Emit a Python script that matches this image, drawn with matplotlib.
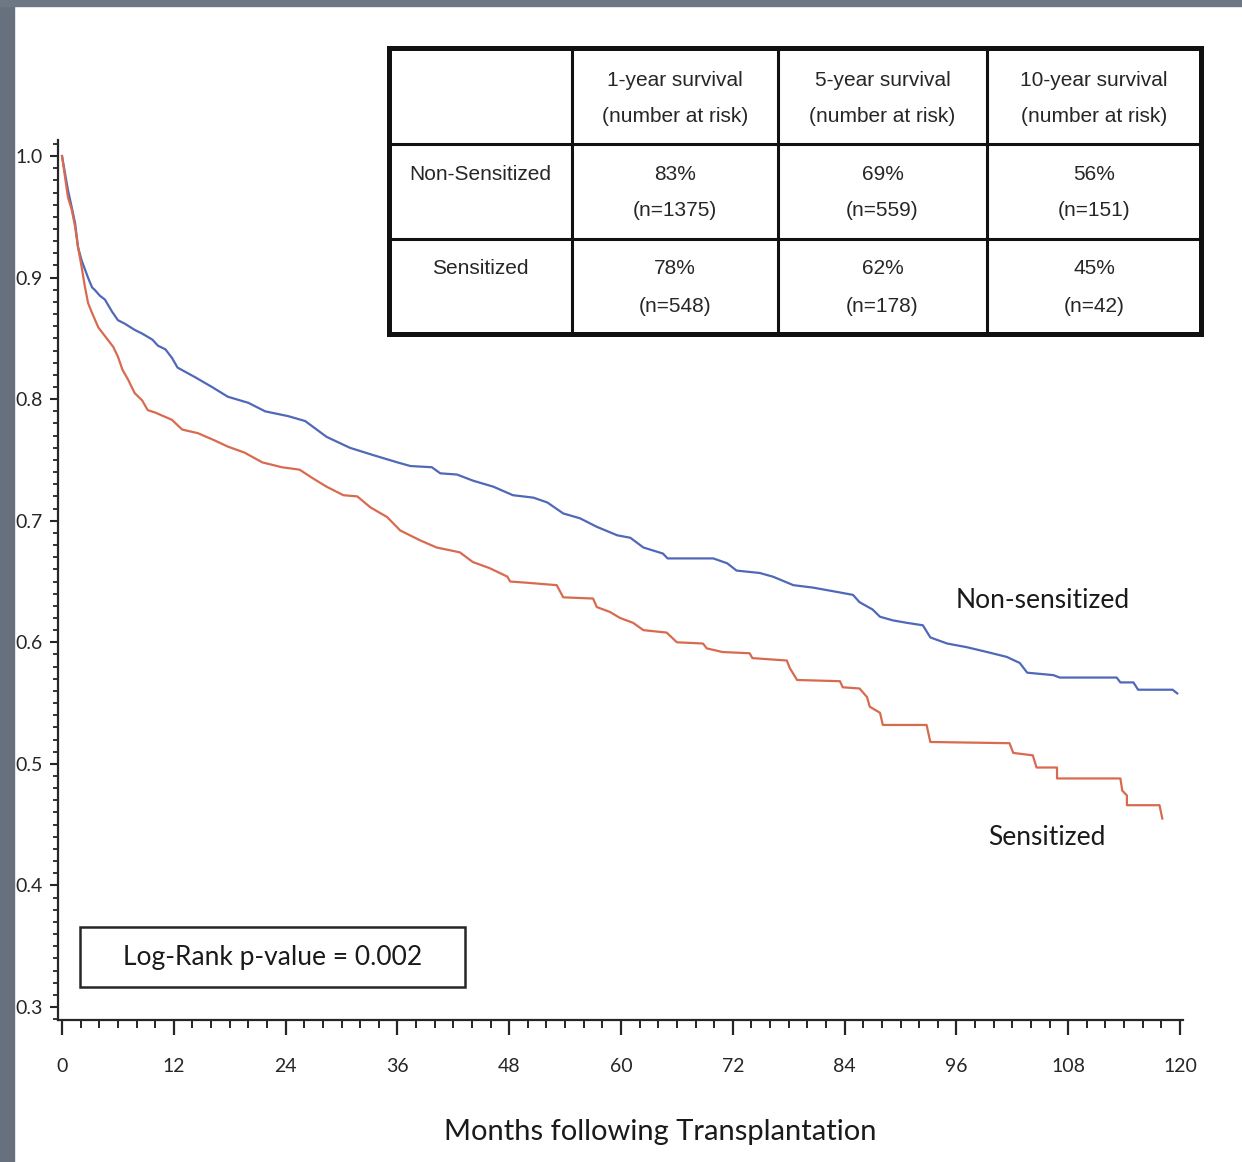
import numpy as np
import matplotlib
matplotlib.use("Agg")
import matplotlib.pyplot as plt
from matplotlib.patches import Rectangle
from matplotlib.ticker import MultipleLocator

# ---------------------------------------------------------------
# Data
# ---------------------------------------------------------------
non_sens_months = [0, 0.32, 0.64, 1.04, 1.4, 1.72, 2.11, 2.5, 2.79, 3.22, 3.5, 4.08, 4.6, 5.37,
                   6.0, 6.76, 7.8, 8.59, 9.7, 10.3, 11.1, 11.8, 12.4, 14.3, 16.1, 17.8,
                   20.0, 21.8, 24.3, 26.1, 28.4, 30.9, 33.4, 36.0, 37.4, 39.7, 40.6, 42.4,
                   44.1, 46.3, 48.4, 50.6, 52.1, 53.8, 55.6, 57.4, 59.6, 61.0, 62.4, 64.5,
                   65.0, 69.9, 71.4, 72.4, 74.9, 76.3, 78.5, 80.6, 83.5, 84.9, 85.6, 87.0,
                   87.8, 89.2, 90.7, 92.4, 93.2, 95.0, 97.1, 99.3, 101.4, 102.8, 103.6,
                   106.4, 107.1, 113.2, 113.6, 115.0, 115.5, 119.2, 119.7]
non_sens_surv = [1.000, 0.986, 0.972, 0.958, 0.945, 0.925, 0.914, 0.906, 0.900, 0.892, 0.890,
                 0.885, 0.882, 0.872, 0.865, 0.862, 0.857, 0.854, 0.849, 0.844, 0.841, 0.834,
                 0.826, 0.818, 0.810, 0.802, 0.797, 0.790, 0.786, 0.782, 0.769, 0.760, 0.754,
                 0.748, 0.745, 0.744, 0.739, 0.738, 0.733, 0.728, 0.721, 0.719, 0.715, 0.706,
                 0.702, 0.695, 0.688, 0.686, 0.678, 0.673, 0.669, 0.669, 0.665, 0.659, 0.657,
                 0.654, 0.647, 0.645, 0.641, 0.639, 0.633, 0.627, 0.621, 0.618, 0.616, 0.614,
                 0.604, 0.599, 0.596, 0.592, 0.588, 0.583, 0.575, 0.573, 0.571, 0.571, 0.567,
                 0.567, 0.561, 0.561, 0.558]

sens_months = [0, 0.32, 0.64, 1.04, 1.4, 1.72, 2.1, 2.47, 2.8, 3.22, 3.9, 4.4, 4.9, 5.5, 6.0,
               6.5, 7.1, 7.8, 8.6, 9.2, 10.0, 11.8, 12.9, 14.6, 16.4,
               17.8, 19.6, 21.5, 23.6, 25.5, 26.9, 28.4, 30.2, 31.7, 33.1, 34.9, 36.3, 38.4,
               40.2, 42.7, 44.1, 45.9, 47.8, 48.1, 49.9, 53.1, 53.8, 57.0, 57.4, 58.8, 59.9,
               61.3, 62.4, 64.9, 66.0, 68.8, 69.2, 70.9, 73.8, 74.1, 77.8, 78.1, 78.9, 83.5,
               83.8, 85.6, 86.4, 86.7, 87.8, 88.1, 92.8, 93.2, 101.7, 102.1, 104.2, 104.6,
               106.8, 106.8, 113.6, 113.8, 114.3, 114.3, 117.8, 118.1]
sens_surv = [1.000, 0.983, 0.966, 0.956, 0.942, 0.925, 0.909, 0.892, 0.879, 0.871, 0.859,
             0.854, 0.849, 0.843, 0.835, 0.824, 0.816, 0.805, 0.799, 0.791, 0.789,
             0.783, 0.775, 0.772, 0.766, 0.761, 0.756, 0.748, 0.744, 0.742, 0.735, 0.728,
             0.721, 0.720, 0.711, 0.703, 0.692, 0.684, 0.678, 0.674, 0.666, 0.661, 0.654,
             0.650, 0.649, 0.647, 0.637, 0.636, 0.629, 0.625, 0.620, 0.616, 0.610, 0.608,
             0.600, 0.599, 0.595, 0.592, 0.591, 0.587, 0.585, 0.579, 0.569, 0.568, 0.563,
             0.562, 0.555, 0.547, 0.542, 0.532, 0.532, 0.518, 0.517, 0.509, 0.507, 0.497,
             0.497, 0.488, 0.488, 0.478, 0.474, 0.466, 0.466, 0.455]

col_headers = ["1-year survival\n(number at risk)", "5-year survival\n(number at risk)",
               "10-year survival\n(number at risk)"]
row_labels = ["Non-Sensitized", "Sensitized"]
survival_pct = [["83%", "69%", "56%"], ["78%", "62%", "45%"]]
at_risk = [["1375", "559", "151"], ["548", "178", "42"]]

p_value = "0.002"

W, H = 1242, 1162
blue = "#4f68b8"
red = "#d86a50"
ink = "#262626"
main_font = ["Lato", "DejaVu Sans"]
table_font = ["Liberation Sans Narrow", "Liberation Sans", "DejaVu Sans"]

fig = plt.figure(figsize=(W / 100, H / 100), dpi=100)
fig.patch.set_facecolor("white")

# scanned-page frame (grey strip left and top)
fig.add_artist(Rectangle((0, 0), 14 / W, 1, transform=fig.transFigure, color="#67717d", zorder=0))
fig.add_artist(Rectangle((0, 1 - 6 / H), 1, 6 / H, transform=fig.transFigure, color="#6e7884", zorder=0))

# ---------------------------------------------------------------
# Survival curves
# ---------------------------------------------------------------
ax = fig.add_axes([58 / W, (H - 1020) / H, (1183 - 58) / W, (1020 - 140) / H])
ax.plot(non_sens_months, non_sens_surv, color=blue, lw=1.6)
ax.plot(sens_months, sens_surv, color=red, lw=1.6)

ax.set_xlim(-0.43, 120.32)
ax.set_ylim(0.2893, 1.0132)
for s in ["top", "right"]:
    ax.spines[s].set_visible(False)
for s in ["left", "bottom"]:
    ax.spines[s].set_color(ink)
    ax.spines[s].set_linewidth(1.6)

ax.xaxis.set_major_locator(MultipleLocator(12))
ax.xaxis.set_minor_locator(MultipleLocator(2))
ax.yaxis.set_major_locator(MultipleLocator(0.1))
ax.yaxis.set_minor_locator(MultipleLocator(0.01))
ax.set_yticks(np.arange(0.3, 1.01, 0.1))
ax.set_yticklabels([f"{v:.1f}" for v in np.arange(0.3, 1.01, 0.1)])
ax.tick_params(axis="x", which="major", length=11, width=1.6, color=ink, pad=16,
               labelsize=14, labelcolor=ink)
ax.tick_params(axis="x", which="minor", length=6, width=1.4, color=ink)
ax.tick_params(axis="y", which="major", length=6, width=1.5, color=ink, pad=5,
               labelsize=14, labelcolor=ink)
ax.tick_params(axis="y", which="minor", length=3.5, width=1.3, color=ink)
for lab in ax.get_xticklabels() + ax.get_yticklabels():
    lab.set_family(main_font)

ax.text(105.3, 0.634, "Non-sensitized", ha="center", va="center", fontsize=19,
        family=main_font, color="#1a1a1a")
ax.text(105.7, 0.4397, "Sensitized", ha="center", va="center", fontsize=19,
        family=main_font, color="#1a1a1a")

# log-rank box
ax.add_patch(Rectangle((1.93, 0.3164), 43.25 - 1.93, 0.3658 - 0.3164, fill=False,
                       ec=ink, lw=1.8, clip_on=False))
ax.text((1.93 + 43.25) / 2, 0.3411, f"Log-Rank p-value = {p_value}", ha="center",
        va="center", fontsize=19, family=main_font, color="#1a1a1a")

fig.text(660 / W, 1 - 1132 / H, "Months following Transplantation", ha="center",
         va="center", fontsize=21, family=main_font, color="#1a1a1a")

# ---------------------------------------------------------------
# Summary table
# ---------------------------------------------------------------
tax = fig.add_axes([389 / W, (H - 334) / H, (1201 - 389) / W, (334 - 48) / H])
tax.set_xlim(389, 1201)
tax.set_ylim(334, 48)
tax.axis("off")

col_edges = [389, 572, 778, 987, 1201]
row_edges = [48, 144, 239, 334]
for x in col_edges[1:-1]:
    tax.plot([x, x], [row_edges[0], row_edges[-1]], color="#111", lw=2.2)
for y in row_edges[1:-1]:
    tax.plot([col_edges[0], col_edges[-1]], [y, y], color="#111", lw=2.2)
tax.add_patch(Rectangle((col_edges[0], row_edges[0]), col_edges[-1] - col_edges[0],
                        row_edges[-1] - row_edges[0], fill=False, ec="#111", lw=3.6,
                        clip_on=False))

tfs = 15
for j, head in enumerate(col_headers):
    cx = (col_edges[j + 1] + col_edges[j + 2]) / 2
    l1, l2 = head.split("\n")
    tax.text(cx, 80, l1, ha="center", va="center", fontsize=tfs, family=table_font, color=ink)
    tax.text(cx, 117, l2, ha="center", va="center", fontsize=tfs, family=table_font, color=ink)

for i, name in enumerate(row_labels):
    top = row_edges[i + 1]
    tax.text((col_edges[0] + col_edges[1]) / 2, top + 30, name, ha="center", va="center",
             fontsize=tfs, family=table_font, color=ink)
    for j in range(3):
        cx = (col_edges[j + 1] + col_edges[j + 2]) / 2
        tax.text(cx, top + 30, survival_pct[i][j], ha="center", va="center", fontsize=tfs,
                 family=table_font, color=ink)
        tax.text(cx, top + 67, f"(n={at_risk[i][j]})", ha="center", va="center",
                 fontsize=tfs, family=table_font, color=ink)

fig.savefig("out.png", dpi=100)
